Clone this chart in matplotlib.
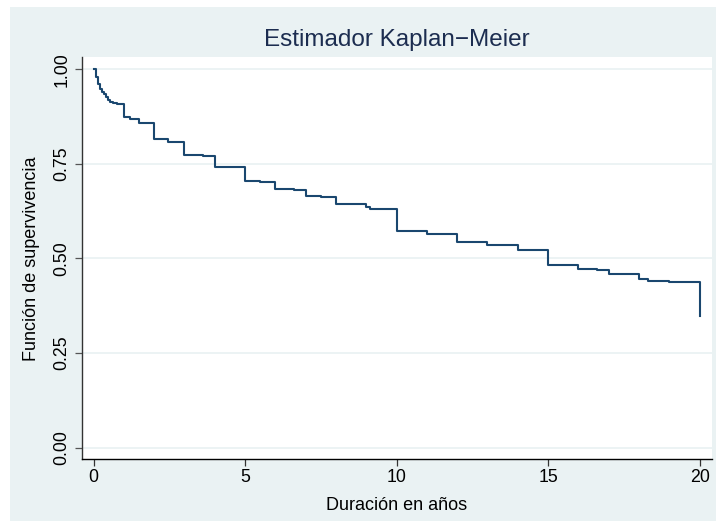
import matplotlib
matplotlib.use("Agg")
import matplotlib.pyplot as plt
from matplotlib.patches import Rectangle

# tiempos de evento (años) y valor de la funcion de supervivencia despues de cada salto
event_times = [0.08, 0.14, 0.21, 0.28, 0.34, 0.40, 0.47, 0.55, 0.64, 0.77,
               1.0, 1.2, 1.5, 2.0, 2.46, 3.0, 3.6, 4.0, 5.0, 5.5,
               6.0, 6.6, 7.0, 7.5, 8.0, 9.0, 9.12, 10.0, 11.0, 12.0,
               13.0, 14.0, 15.0, 16.0, 16.6, 17.0, 18.0, 18.3, 19.0, 20.0]
survival = [0.980, 0.961, 0.948, 0.940, 0.935, 0.927, 0.920, 0.914, 0.910, 0.908,
            0.873, 0.869, 0.859, 0.815, 0.809, 0.774, 0.771, 0.743, 0.706, 0.703,
            0.683, 0.681, 0.665, 0.663, 0.643, 0.635, 0.632, 0.572, 0.564, 0.544,
            0.535, 0.523, 0.482, 0.472, 0.470, 0.458, 0.445, 0.441, 0.439, 0.349]

x_ticks = [0, 5, 10, 15, 20]
y_ticks = [0.0, 0.25, 0.5, 0.75, 1.0]
y_tick_labels = ["0.00", "0.25", "0.50", "0.75", "1.00"]

title = "Estimador Kaplan\u2212Meier"
x_label = "Duración en años"
y_label = "Función de supervivencia"

bg_color = "#EAF2F3"
line_color = "#1a476f"
title_color = "#1c2d50"

plt.rcParams['font.family'] = ['Liberation Sans', 'DejaVu Sans']

W, H = 716, 525
fig = plt.figure(figsize=(W / 100, H / 100), dpi=100, facecolor="white")

## outer graph region
fig.patches.append(Rectangle((10 / W, 1 - 521 / H), (W - 10) / W, (521 - 7) / H,
                             transform=fig.transFigure, facecolor=bg_color,
                             edgecolor="none", zorder=-10))

## plot region
ax = fig.add_axes([81.7 / W, 1 - 459.3 / H, (711.7 - 81.7) / W, (459.3 - 57.3) / H])
ax.set_facecolor("white")
ax.set_zorder(1)

xs = [0] + event_times
ys = [1.0] + survival
ax.step(xs, ys, where="post", color=line_color, lw=1.5, zorder=3)

ax.set_xlim(-0.39, 20.40)
ax.set_ylim(-0.0307, 1.0317)

ax.set_xticks(x_ticks)
ax.set_xticklabels([str(t) for t in x_ticks])
ax.set_yticks(y_ticks)
ax.set_yticklabels(y_tick_labels, rotation=90, va="center")

for yv in y_ticks:
    ax.axhline(yv, color=bg_color, lw=1.3, zorder=1)

for side in ["top", "right"]:
    ax.spines[side].set_visible(False)
ax.spines["left"].set_color("#333333")
ax.spines["bottom"].set_color("black")
ax.spines["left"].set_linewidth(1.0)
ax.spines["bottom"].set_linewidth(1.0)

ax.tick_params(axis="x", direction="out", length=4.8, width=0.9, color="#333333",
               labelsize=12.8, pad=2.5)
ax.tick_params(axis="y", direction="out", length=5.3, width=0.9, color="#555555",
               labelsize=12.8, pad=3)

ax.set_xlabel(x_label, fontsize=13)
ax.xaxis.set_label_coords(0.5, -0.094)
ax.set_ylabel(y_label, fontsize=13)
ax.yaxis.set_label_coords(-0.066, 0.5)

## title
fig.text((81.7 + 711.7) / 2 / W, 1 - 40 / H, title, ha="center", va="center",
         fontsize=17.5, color=title_color)

fig.savefig("out.png", dpi=100, facecolor=fig.get_facecolor())
